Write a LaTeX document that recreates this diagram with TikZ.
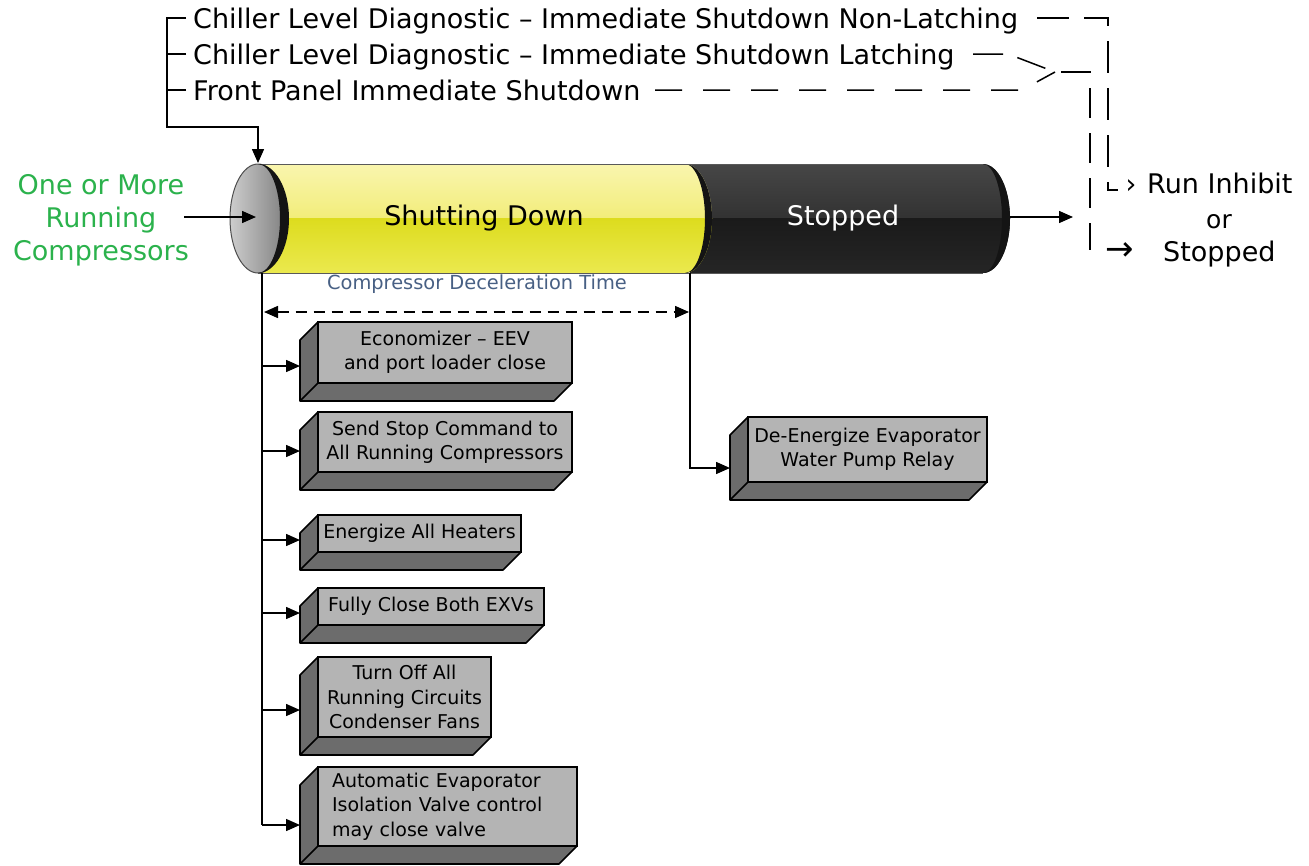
\documentclass[tikz,border=0pt]{standalone}
\usepackage{fontspec}
\setmainfont{DejaVu Sans}
\usetikzlibrary{arrows.meta}
\definecolor{grn}{RGB}{43,178,76}
\definecolor{slate}{RGB}{72,96,132}
\definecolor{facec}{RGB}{180,180,180}
\definecolor{sidec}{RGB}{108,108,108}
\definecolor{yTop}{RGB}{250,246,178}
\definecolor{yMidA}{RGB}{242,237,122}
\definecolor{yMidB}{RGB}{221,220,30}
\definecolor{yBot}{RGB}{236,234,82}
\definecolor{kTop}{RGB}{72,72,72}
\definecolor{kMidA}{RGB}{50,50,50}
\definecolor{kMidB}{RGB}{26,26,26}
\definecolor{kBot}{RGB}{38,38,38}
\definecolor{rimc}{RGB}{20,20,20}
\newcommand\tdbox[8]{%
  \fill[sidec] (#2,#3) -- (#2-18,#3+18) -- (#2-18,#5+18) -- (#4-18,#5+18) -- (#4,#5) -- cycle;
  \draw[boxline] (#2,#3) -- (#2-18,#3+18) -- (#2-18,#5+18) -- (#4-18,#5+18) -- (#4,#5);
  \draw[boxline] (#2,#5) -- (#2-18,#5+18);
  \node[frontface, minimum width={(#4-#2)*1pt}, minimum height={(#5-#3)*1pt}, anchor=north west, #7] (#1) at (#2,#3) {#6};
  \coordinate (#1in) at (#2-18,#8);
}
\begin{document}
\begin{tikzpicture}[x=1pt,y=-1pt,
  ln/.style={line width=1.5pt},
  arr/.style={ln,-{Triangle[length=14pt,width=12pt]}},
  dsh/.style={line width=1.5pt,dash pattern=on 27pt off 21pt},
  boxline/.style={line width=1.6pt,line join=round},
  frontface/.style={draw=black,line width=1.6pt,fill=facec,inner sep=0pt,outer sep=0pt,align=center,font=\fontsize{19}{24.5}\selectfont},
  toptxt/.style={anchor=base west,inner sep=0pt,font=\fontsize{27}{30}\selectfont},
  bigtxt/.style={inner sep=0pt,font=\fontsize{27}{33}\selectfont}]
\useasboundingbox (0,0) rectangle (1309,865);

% ---------- cylinder ----------
% stopped body
\begin{scope}
\clip (690,164) -- (983,164) arc[start angle=90,end angle=-90,x radius=27pt,y radius=54.5pt] -- (690,273) -- cycle;
\shade[top color=kTop,bottom color=kMidA] (680,160) rectangle (1015,218.5);
\shade[top color=kMidB,bottom color=kBot] (680,218.5) rectangle (1015,277);
\end{scope}
\fill[rimc] (983,164) arc[start angle=90,end angle=-90,x radius=27pt,y radius=54.5pt] arc[start angle=-90,end angle=90,x radius=19pt,y radius=54.5pt] -- cycle;
% shutting-down body
\begin{scope}
\clip (258,164) -- (685,164) arc[start angle=90,end angle=-90,x radius=27pt,y radius=54.5pt] -- (258,273) -- cycle;
\shade[top color=yTop,bottom color=yMidA] (250,160) rectangle (720,218.5);
\shade[top color=yMidB,bottom color=yBot] (250,218.5) rectangle (720,277);
\end{scope}
\fill[rimc] (685,164) arc[start angle=90,end angle=-90,x radius=27pt,y radius=54.5pt] arc[start angle=-90,end angle=90,x radius=20pt,y radius=54.5pt] -- cycle;
\draw[gray!70!black,line width=1pt] (258,164) -- (983,164) (258,273) -- (983,273);
% left cap
\shade[left color={rgb,255:red,205;green,205;blue,205},right color={rgb,255:red,128;green,128;blue,128},draw=gray!60!black,line width=1pt] (258,218.5) ellipse[x radius=28pt,y radius=54.5pt];
\fill[rimc] (258,164) arc[start angle=90,end angle=-90,x radius=31pt,y radius=54.5pt] arc[start angle=-90,end angle=90,x radius=22pt,y radius=54.5pt] -- cycle;

\node[bigtxt] (sd) at (484,218) {Shutting Down};
\node[bigtxt,text=white] (st) at (843,218) {Stopped};
\coordinate (capTop) at (258,163);
\coordinate (capL) at (256,217);
\coordinate (cylR) at (1010,217);
\coordinate (outR) at (1073,217);
\coordinate (trTop) at (262,273);
\coordinate (sdBot) at (690,273);

% ---------- top labels ----------
\node[toptxt] (l1) at (193,28) {Chiller Level Diagnostic – Immediate Shutdown Non-Latching};
\node[toptxt] (l2) at (193,64) {Chiller Level Diagnostic – Immediate Shutdown Latching};
\node[toptxt] (l3) at (193,100) {Front Panel Immediate Shutdown};
\coordinate (t1) at (186,18);
\coordinate (t2) at (186,54);
\coordinate (t3) at (186,90);
\draw[arr] (t1) -- (167,18) |- (258,127) -- (capTop);
\draw[ln] (t2) -- (167,54);
\draw[ln] (t3) -- (167,90);

% dashed routes
\node[anchor=base,inner sep=0pt,font=\fontsize{27}{27}\selectfont] (gt) at (1131,193) {›};
\coordinate (dA0) at (1037,18);
\coordinate (dA1) at (1118,190);
\draw[line width=1.5pt,dash pattern=on 32pt off 15pt] (dA0) -- (1108,18) -- (1108,190) -- (dA1);
\coordinate (dB0) at (973,54);
\coordinate (dC0) at (655,90);
\coordinate (dM) at (1055,72);
\coordinate (dB1) at (1090,250);
\draw[line width=1.5pt,dash pattern=on 30pt off 15pt] (dB0) -- (1008,54) -- (dM);
\draw[dsh] (dC0) -- (1022,90) -- (dM);
\draw[line width=1.5pt,dash pattern=on 30pt off 15pt] ([xshift=6pt]dM) -- (1090,72) -- (dB1);
\node[anchor=base,inner sep=0pt,font=\fontsize{34}{34}\selectfont] (ra) at (1120,260) {→};

\node[toptxt] (ri) at (1147,193) {Run Inhibit};
\node[anchor=base,inner sep=0pt,font=\fontsize{25}{25}\selectfont] (or) at (1219,228) {or};
\node[toptxt] (rs) at (1163,261) {Stopped};

% ---------- left input ----------
\node[bigtxt,align=center,text=grn] (inp) at (101,220) {One or More\\Running\\Compressors};
\coordinate (inA) at (184,217);
\draw[arr] (inA) -- (capL);
\draw[arr] (cylR) -- (outR);

% ---------- deceleration ----------
\node[inner sep=0pt,text=slate,font=\fontsize{19.4}{22}\selectfont] (cdt) at (477,284) {Compressor Deceleration Time};
\coordinate (dL) at (264,312);
\coordinate (dR) at (689,312);
\draw[line width=1.5pt,dash pattern=on 11pt off 7pt,{Triangle[length=14pt,width=12pt]}-{Triangle[length=14pt,width=12pt]}] (dL) -- (dR);

% ---------- boxes ----------
\tdbox{b1}{318}{322}{572}{383}{Economizer – EEV\\and port loader close}{}{366}
\tdbox{b2}{318}{412}{572}{472}{Send Stop Command to\\All Running Compressors}{}{451}
\tdbox{b3}{318}{515}{521}{552}{Energize All Heaters}{}{540}
\tdbox{b4}{318}{588}{544}{625}{Fully Close Both EXVs}{}{613}
\tdbox{b5}{318}{657}{491}{737}{Turn Off All\\Running Circuits\\Condenser Fans}{}{710}
\tdbox{b6}{318}{767}{577}{846}{Automatic Evaporator\\Isolation Valve control\\may close valve}{text width=231pt,align=left}{825}
\tdbox{b7}{748}{417}{987}{482}{De-Energize Evaporator\\Water Pump Relay}{}{468}

% trunk
\coordinate (k1) at (262,366);
\coordinate (k2) at (262,451);
\coordinate (k3) at (262,540);
\coordinate (k4) at (262,613);
\coordinate (k5) at (262,710);
\coordinate (k6) at (262,825);
\draw[ln] (trTop) -- (k6);
\draw[arr] (k1) -- (b1in);
\draw[arr] (k2) -- (b2in);
\draw[arr] (k3) -- (b3in);
\draw[arr] (k4) -- (b4in);
\draw[arr] (k5) -- (b5in);
\draw[arr] (k6) -- (b6in);
\draw[arr] (sdBot) |- (b7in);
\end{tikzpicture}
\end{document}
